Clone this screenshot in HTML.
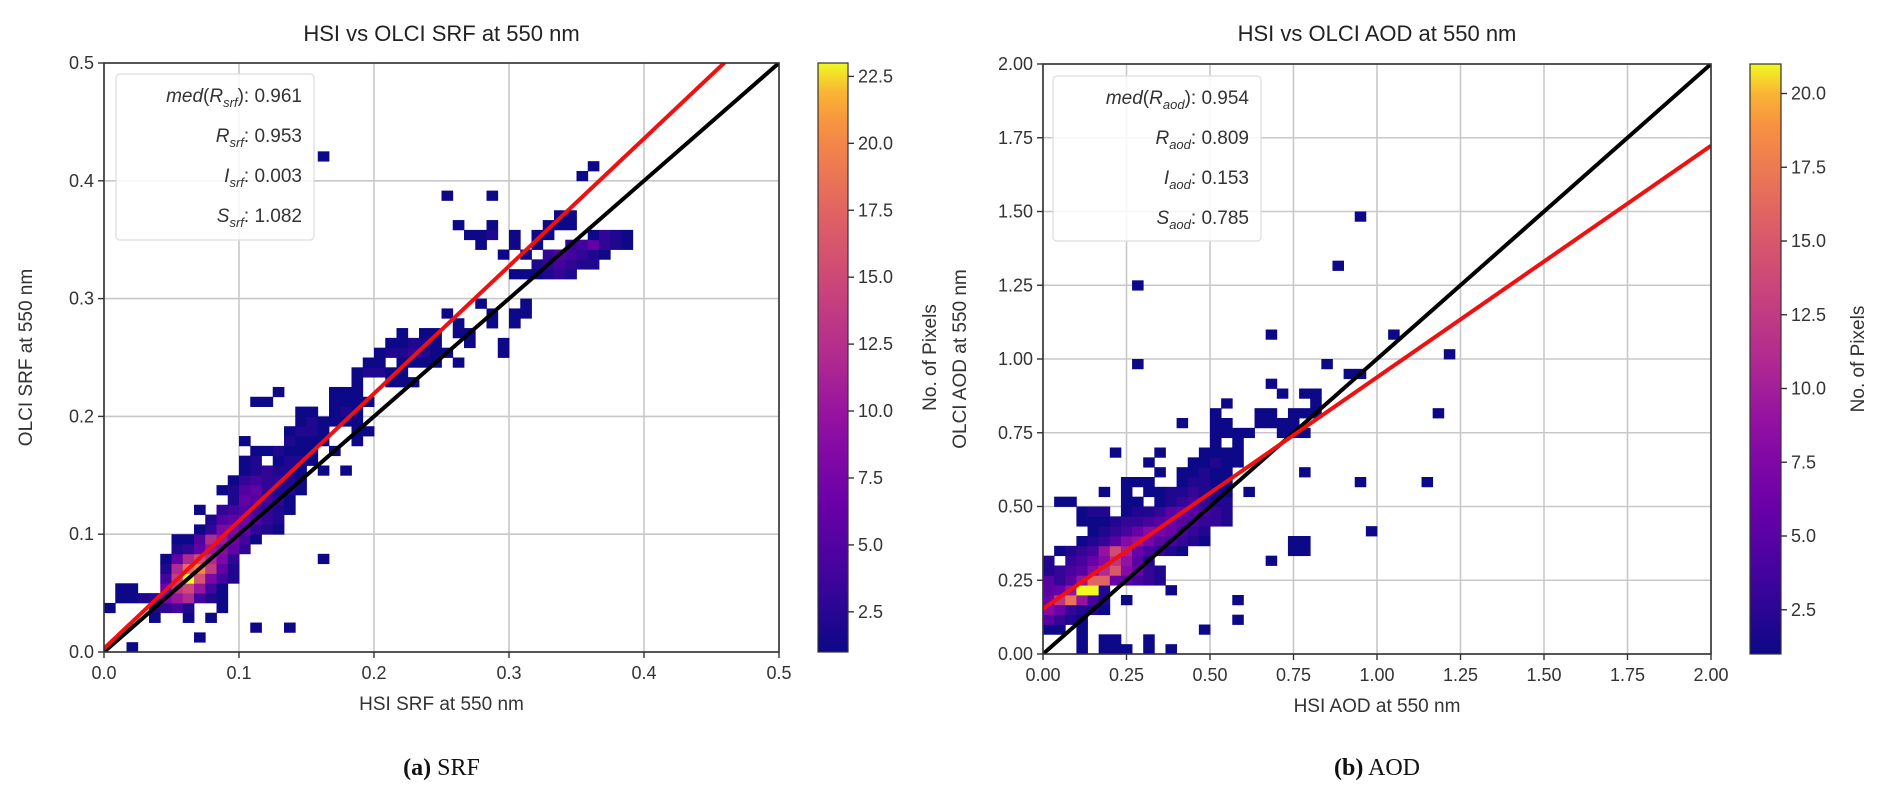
<!DOCTYPE html>
<html><head><meta charset="utf-8"><style>
html,body{margin:0;padding:0;background:#fff;}
svg{display:block;font-family:"Liberation Sans",sans-serif;}
</style></head><body>
<svg id="fig" width="1892" height="803" viewBox="0 0 1892 803" xmlns="http://www.w3.org/2000/svg"></svg>
<script>
// ---------- data: SRF panel ----------
const srfBins = 60;
const srfRange = [0, 0.5];
const srfTicks = [0.0, 0.1, 0.2, 0.3, 0.4, 0.5];
const srfTickLabels = ["0.0","0.1","0.2","0.3","0.4","0.5"];
const srfCbarRange = [1, 23];
const srfCbarTicks = [2.5,5.0,7.5,10.0,12.5,15.0,17.5,20.0,22.5];
const srfFit = [0.003, 1.082];
// rows: [iy, [ix,count, ix,count, ...]]
const srfRows = [
[0,[2,1]],[1,[8,1]],[2,[13,1,16,1]],[3,[4,1,7,1,9,1]],
[4,[0,1,4,2,5,3,6,4,7,2,10,1]],
[5,[1,1,2,1,3,2,4,3,5,8,6,10,7,12,8,4,9,2,10,1]],
[6,[1,1,2,1,5,7,6,13,7,15,8,10,9,4,10,1]],
[7,[5,4,6,14,7,23,8,16,9,8,10,4,11,2]],
[8,[5,2,6,12,7,18,8,20,9,14,10,6,11,2]],
[9,[5,1,6,6,7,12,8,15,9,12,10,8,11,3,19,1]],
[10,[6,2,7,3,8,6,9,10,10,9,11,6,12,3]],
[11,[6,1,7,1,8,5,9,12,10,10,11,7,12,4,13,1]],
[12,[8,1,9,3,10,8,11,8,12,6,13,3,14,2,15,1]],
[13,[9,2,10,5,11,6,12,7,13,5,14,3,15,2]],
[14,[8,1,10,3,11,4,12,5,13,4,14,3,15,2,16,1]],
[15,[11,2,12,6,13,5,14,4,15,3,16,1]],
[16,[10,1,11,2,12,5,13,6,14,3,15,2,16,2,17,1]],
[17,[11,1,12,3,13,4,14,3,15,3,16,2,17,1]],
[18,[12,1,13,2,14,3,15,2,16,2,17,1,19,1,21,1]],
[19,[12,1,13,2,15,1,16,2,17,2,18,1]],
[20,[13,1,14,1,15,2,16,1,17,1,18,1,20,1]],
[21,[12,1,16,2,17,1,18,1,19,1,22,1]],
[22,[16,1,17,2,18,2,19,1,22,1,23,1]],
[23,[17,1,18,2,19,1,20,1,21,1,22,1]],
[24,[17,1,18,1,20,1,21,2,22,1]],
[25,[13,1,14,1,20,1,21,1,22,1,23,1]],
[26,[15,1,20,1,21,1,22,1]],
[27,[22,1,25,1,26,1,27,1]],
[28,[22,1,23,2,24,2,25,1,26,1]],
[29,[23,1,24,1,26,1,27,1,28,1,29,1,31,1]],
[30,[24,1,25,2,26,2,27,3,28,2,29,1,30,1,35,1]],
[31,[25,1,26,1,27,2,28,2,29,1,32,1,35,1]],
[32,[26,1,28,1,29,1,31,1,32,1]],
[33,[31,1,34,1,36,1]],
[34,[30,1,34,1,36,1,37,1]],
[35,[33,1,37,1]],
[38,[36,1,37,1,38,1,39,2,40,3,41,2]],
[39,[38,2,39,3,40,4,41,3,42,2,43,2]],
[40,[35,1,37,1,39,3,40,5,41,4,42,3,43,2,44,1]],
[41,[33,1,36,1,38,1,41,3,42,4,43,6,44,3,45,2,46,1]],
[42,[32,1,33,1,34,2,36,1,38,1,39,1,43,1,44,3,45,2,46,1]],
[43,[31,1,34,1,39,1,40,1,41,1]],
[44,[40,1,41,1]],
[46,[30,1,34,1]],
[48,[42,1]],[49,[43,1]],[50,[19,1]]
];
// ---------- data: AOD panel ----------
const aodBins = 60;
const aodRange = [0, 2.0];
const aodTicks = [0,0.25,0.5,0.75,1.0,1.25,1.5,1.75,2.0];
const aodTickLabels = ["0.00","0.25","0.50","0.75","1.00","1.25","1.50","1.75","2.00"];
const aodCbarRange = [1, 21];
const aodCbarTicks = [2.5,5.0,7.5,10.0,12.5,15.0,17.5,20.0];
const aodFit = [0.153, 0.785];
const aodRows = [
[0,[3,1,5,1,6,1,7,1,9,1,11,1]],
[1,[3,1,5,1,6,1,9,1]],
[2,[0,1,1,1,3,1,14,1]],
[3,[0,5,1,3,2,2,3,1,17,1]],
[4,[0,8,1,6,2,3,3,2,4,2,5,1]],
[5,[0,6,1,12,2,17,3,9,4,4,5,2,7,1,17,1]],
[6,[0,5,1,6,2,9,3,21,4,21,5,2,11,1]],
[7,[0,5,1,3,2,5,3,9,4,16,5,16,6,6,7,5,8,4,9,3,10,2]],
[8,[0,2,1,3,2,4,3,5,4,8,5,11,6,15,7,8,8,6,9,3,10,2]],
[9,[0,2,2,3,3,4,4,6,5,8,6,12,7,9,8,5,9,2,20,1]],
[10,[1,1,2,2,3,3,4,4,5,9,6,14,7,10,8,6,9,4,10,3,11,2,12,1,22,1,23,1]],
[11,[3,1,4,2,5,3,6,5,7,8,8,9,9,7,10,5,11,4,12,3,13,2,14,1,22,1,23,1]],
[12,[4,1,5,2,6,3,7,4,8,6,9,8,10,7,11,6,12,4,13,3,14,2,29,1]],
[13,[3,1,4,1,5,1,6,2,7,3,8,3,9,4,10,5,11,6,12,5,13,4,14,3,15,3,16,2]],
[14,[3,1,4,2,5,2,7,1,8,2,9,2,10,3,11,5,12,6,13,5,14,4,15,3,16,2]],
[15,[1,1,2,1,7,1,8,1,10,1,11,2,12,3,13,4,14,3,15,2,16,2]],
[16,[5,1,7,1,9,1,10,1,11,2,12,2,13,3,14,2,15,2,16,1,18,1]],
[17,[7,1,8,1,9,1,12,1,13,2,14,2,15,1,16,1,28,1,34,1]],
[18,[10,1,12,1,13,1,14,2,15,1,16,1,23,1]],
[19,[9,1,13,1,14,1,15,2,16,1,17,1]],
[20,[6,1,10,1,14,1,15,1,16,1,17,1]],
[21,[15,1,17,1]],
[22,[15,1,16,1,17,1,18,1,21,1,22,1,23,1]],
[23,[12,1,15,1,16,1,19,1,20,1,21,1,22,1]],
[24,[15,1,19,1,20,1,22,1,23,1,24,1,35,1]],
[25,[16,1,24,1]],
[26,[21,1,23,1,24,1]],
[27,[20,1]],
[28,[27,1,28,1]],
[29,[8,1,25,1]],
[30,[36,1]],
[32,[20,1,31,1]],
[37,[8,1]],
[39,[26,1]],
[44,[28,1]]
];

// ---------- helpers ----------
const NS = "http://www.w3.org/2000/svg";
const svg = document.getElementById("fig");
function mk(tag, attrs, parent, name, inter) {
  const e = document.createElementNS(NS, tag);
  for (const k in attrs) e.setAttribute(k, attrs[k]);
  
  
  (parent || svg).appendChild(e);
  return e;
}
const plasmaStops = [[0,[13,8,135]],[0.13,[65,4,157]],[0.25,[106,0,168]],[0.38,[143,13,164]],[0.5,[177,42,144]],[0.63,[204,71,120]],[0.75,[225,100,98]],[0.88,[246,139,69]],[0.94,[252,166,54]],[1,[240,249,33]]];
function plasma(t) {
  t = Math.max(0, Math.min(1, t));
  for (let i = 1; i < plasmaStops.length; i++) {
    if (t <= plasmaStops[i][0]) {
      const a = plasmaStops[i-1], b = plasmaStops[i];
      const f = (t - a[0]) / (b[0] - a[0]);
      const c = a[1].map((v, j) => Math.round(v + (b[1][j] - v) * f));
      return `rgb(${c[0]},${c[1]},${c[2]})`;
    }
  }
  return "rgb(240,249,33)";
}

function panel(cfg) {
  const g = mk("g", {}, svg, cfg.id + "-panel", false);
  const L = cfg.ax[0], T = cfg.ax[1], R = cfg.ax[2], B = cfg.ax[3];
  const X = v => L + (v - cfg.range[0]) / (cfg.range[1] - cfg.range[0]) * (R - L);
  const Y = v => B - (v - cfg.range[0]) / (cfg.range[1] - cfg.range[0]) * (B - T);
  const clipId = cfg.id + "-clip";
  const defs = mk("defs", {}, g, cfg.id + "-defs", false);
  const cp = mk("clipPath", {id: clipId}, defs, cfg.id + "-clip-path", false);
  mk("rect", {x: L, y: T, width: R - L, height: B - T}, cp, cfg.id + "-clip-rect", false);
  cfg.ticks.forEach((t, i) => {
    mk("line", {x1: X(t), x2: X(t), y1: T, y2: B, stroke: "#c8c8c8", "stroke-width": 1.6}, g, "x-gridline", false);
    mk("line", {x1: L, x2: R, y1: Y(t), y2: Y(t), stroke: "#c8c8c8", "stroke-width": 1.6}, g, "y-gridline", false);
  });
  const bw = (cfg.range[1] - cfg.range[0]) / cfg.bins;
  const cells = mk("g", {"clip-path": `url(#${clipId})`}, g, cfg.id + "-heatmap", false);
  cfg.rows.forEach(r => {
    const iy = r[0], list = r[1];
    for (let k = 0; k < list.length; k += 2) {
      const ix = list[k], c = list[k+1];
      const x0 = X(cfg.range[0] + ix * bw), x1 = X(cfg.range[0] + (ix + 1) * bw);
      const y0 = Y(cfg.range[0] + (iy + 1) * bw), y1 = Y(cfg.range[0] + iy * bw);
      const t = (c - cfg.cbar[0]) / (cfg.cbar[1] - cfg.cbar[0]);
      mk("rect", {x: x0, y: y0, width: x1 - x0 + 0.4, height: y1 - y0 + 0.4, fill: plasma(t)}, cells, "heatmap-cell", false);
    }
  });
  const lines = mk("g", {"clip-path": `url(#${clipId})`}, g, cfg.id + "-lines", false);
  mk("line", {x1: X(cfg.range[0]), y1: Y(cfg.range[0]), x2: X(cfg.range[1]), y2: Y(cfg.range[1]), stroke: "#000", "stroke-width": 4}, lines, "one-to-one-line", false);
  const fx0 = cfg.range[0], fx1 = cfg.range[1];
  mk("line", {x1: X(fx0), y1: Y(cfg.fit[0] + cfg.fit[1] * fx0), x2: X(fx1), y2: Y(cfg.fit[0] + cfg.fit[1] * fx1), stroke: "#f01010", "stroke-width": 4}, lines, "regression-line", false);
  mk("rect", {x: L, y: T, width: R - L, height: B - T, fill: "none", stroke: "#333", "stroke-width": 1.6}, g, "axes-frame", false);
  cfg.ticks.forEach((t, i) => {
    mk("line", {x1: X(t), x2: X(t), y1: B, y2: B + 6, stroke: "#333", "stroke-width": 1.4}, g, "x-tick", false);
    const tx = mk("text", {x: X(t), y: B + 27, "text-anchor": "middle", "font-size": 18, fill: "#333"}, g, "x-tick-label", false);
    tx.textContent = cfg.tickLabels[i];
    mk("line", {x1: L - 6, x2: L, y1: Y(t), y2: Y(t), stroke: "#333", "stroke-width": 1.4}, g, "y-tick", false);
    const ty = mk("text", {x: L - 10, y: Y(t) + 6, "text-anchor": "end", "font-size": 18, fill: "#333"}, g, "y-tick-label", false);
    ty.textContent = cfg.tickLabels[i];
  });
  const tt = mk("text", {x: (L + R) / 2, y: 41, "text-anchor": "middle", "font-size": 22, fill: "#222"}, g, "chart-title", false);
  tt.textContent = cfg.title;
  const xl = mk("text", {x: (L + R) / 2, y: B + 58, "text-anchor": "middle", "font-size": 19, fill: "#333"}, g, "x-axis-title", false);
  xl.textContent = cfg.xlabel;
  const yl = mk("text", {x: cfg.ylabelX, y: (T + B) / 2, "text-anchor": "middle", "font-size": 19, fill: "#333", transform: `rotate(-90 ${cfg.ylabelX} ${(T + B) / 2})`}, g, "y-axis-title", false);
  yl.textContent = cfg.ylabel;
  const lb = cfg.legend;
  mk("rect", {x: lb[0], y: lb[1], width: lb[2], height: lb[3], rx: 4, fill: "rgba(255,255,255,0.85)", stroke: "#ddd", "stroke-width": 1.2}, g, "stats-box", false);
  cfg.stats.forEach((s, i) => {
    const tx = mk("text", {x: lb[0] + lb[2] - 12, y: lb[1] + 28 + i * 40, "text-anchor": "end", "font-size": 19, fill: "#333"}, g, "stats-entry", false);
    tx.innerHTML = s;
  });
  const cb = cfg.cbarBox;
  const gradId = cfg.id + "-grad";
  const lg = mk("linearGradient", {id: gradId, x1: 0, y1: 1, x2: 0, y2: 0}, defs, "colorbar-gradient", false);
  for (let i = 0; i <= 20; i++) {
    mk("stop", {offset: i / 20, "stop-color": plasma(i / 20)}, lg, "gradient-stop", false);
  }
  mk("rect", {x: cb[0], y: T, width: cb[1], height: B - T, fill: `url(#${gradId})`, stroke: "#333", "stroke-width": 1.2}, g, "colorbar", false);
  const CY = v => B - (v - cfg.cbar[0]) / (cfg.cbar[1] - cfg.cbar[0]) * (B - T);
  cfg.cbarTicks.forEach(t => {
    mk("line", {x1: cb[0] + cb[1], x2: cb[0] + cb[1] + 6, y1: CY(t), y2: CY(t), stroke: "#333", "stroke-width": 1.4}, g, "colorbar-tick", false);
    const tx = mk("text", {x: cb[0] + cb[1] + 10, y: CY(t) + 6, "font-size": 18, fill: "#333"}, g, "colorbar-tick-label", false);
    tx.textContent = t.toFixed(1);
  });
  const clx = cfg.cbarLabelX;
  const cl = mk("text", {x: clx, y: (T + B) / 2, "text-anchor": "middle", "font-size": 19, fill: "#333", transform: `rotate(-90 ${clx} ${(T + B) / 2})`}, g, "colorbar-title", false);
  cl.textContent = "No. of Pixels";
  const cap = mk("text", {x: (L + R) / 2, y: 775, "text-anchor": "middle", "font-size": 24, fill: "#111", "font-family": "Liberation Serif, serif"}, g, "subfigure-caption", false);
  cap.innerHTML = cfg.caption;
}

panel({id: "srf", ax: [104, 63, 779, 652], range: srfRange, bins: srfBins, rows: srfRows, ticks: srfTicks, tickLabels: srfTickLabels,
  cbar: srfCbarRange, cbarTicks: srfCbarTicks, fit: srfFit, title: "HSI vs OLCI SRF at 550 nm", xlabel: "HSI SRF at 550 nm",
  ylabel: "OLCI SRF at 550 nm", ylabelX: 32, legend: [116, 74, 198, 166], cbarBox: [818, 30], cbarLabelX: 936,
  stats: ['<tspan font-style="italic">med</tspan>(<tspan font-style="italic">R</tspan><tspan font-style="italic" font-size="13" dy="5">srf</tspan><tspan dy="-5">): 0.961</tspan>',
          '<tspan font-style="italic">R</tspan><tspan font-style="italic" font-size="13" dy="5">srf</tspan><tspan dy="-5">: 0.953</tspan>',
          '<tspan font-style="italic">I</tspan><tspan font-style="italic" font-size="13" dy="5">srf</tspan><tspan dy="-5">: 0.003</tspan>',
          '<tspan font-style="italic">S</tspan><tspan font-style="italic" font-size="13" dy="5">srf</tspan><tspan dy="-5">: 1.082</tspan>'],
  caption: '<tspan font-weight="bold">(a)</tspan> SRF'});
panel({id: "aod", ax: [1043, 64, 1711, 654], range: aodRange, bins: aodBins, rows: aodRows, ticks: aodTicks, tickLabels: aodTickLabels,
  cbar: aodCbarRange, cbarTicks: aodCbarTicks, fit: aodFit, title: "HSI vs OLCI AOD at 550 nm", xlabel: "HSI AOD at 550 nm",
  ylabel: "OLCI AOD at 550 nm", ylabelX: 966, legend: [1053, 76, 208, 165], cbarBox: [1750, 31], cbarLabelX: 1864,
  stats: ['<tspan font-style="italic">med</tspan>(<tspan font-style="italic">R</tspan><tspan font-style="italic" font-size="13" dy="5">aod</tspan><tspan dy="-5">): 0.954</tspan>',
          '<tspan font-style="italic">R</tspan><tspan font-style="italic" font-size="13" dy="5">aod</tspan><tspan dy="-5">: 0.809</tspan>',
          '<tspan font-style="italic">I</tspan><tspan font-style="italic" font-size="13" dy="5">aod</tspan><tspan dy="-5">: 0.153</tspan>',
          '<tspan font-style="italic">S</tspan><tspan font-style="italic" font-size="13" dy="5">aod</tspan><tspan dy="-5">: 0.785</tspan>'],
  caption: '<tspan font-weight="bold">(b)</tspan> AOD'});
</script>
</body></html>
